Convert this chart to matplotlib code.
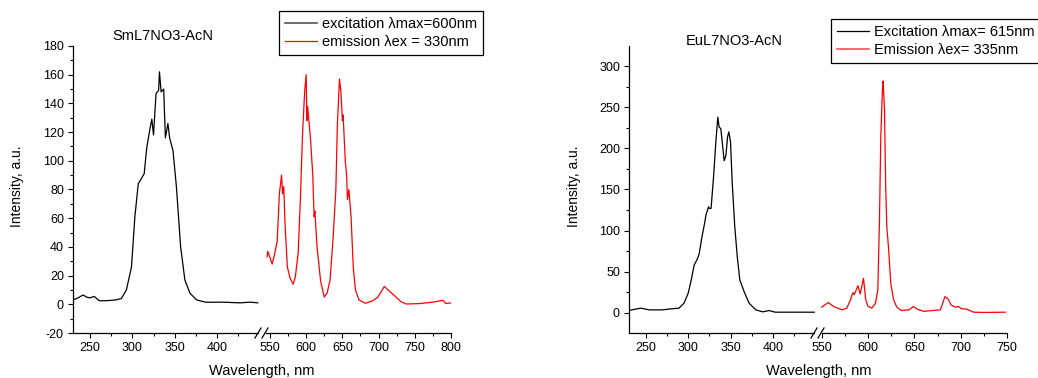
import matplotlib
matplotlib.use("Agg")
import matplotlib.pyplot as plt
from matplotlib.lines import Line2D
from matplotlib.ticker import FixedLocator

plt.rcParams['font.family'] = ['Liberation Sans', 'DejaVu Sans']
plt.rcParams['axes.unicode_minus'] = False

# SmL7NO3-AcN, excitation (lambda max = 600 nm)
sm_exc_wl = [230, 236, 242, 246, 250, 255, 261, 269, 280, 287, 293, 299, 303, 307, 311, 314,
             317, 319, 321, 323, 325, 328, 331, 332, 334, 337, 339, 342, 344, 348, 352, 357,
             362, 368, 376, 387, 407, 427, 439, 448]
sm_exc_int = [3, 4.5, 6.5, 5, 4.5, 5.5, 2.5, 2.5, 3, 4, 10, 26, 61, 84, 88, 91,
              109, 116, 123, 129, 118, 147, 149, 162, 148, 150, 116, 126, 116, 107, 82, 40,
              17, 7.7, 3, 1.4, 1.5, 1, 1.5, 1]

# SmL7NO3-AcN, emission (lambda ex = 330 nm)
sm_em_wl = [546, 547, 553, 556, 560, 563, 566, 567.5, 569, 571, 574, 578, 582, 585, 589, 592,
            595, 598, 600, 601, 602, 606, 609, 611, 612, 615, 620, 625, 629, 633, 637, 641,
            643, 646, 648, 650, 651, 654, 656, 657, 659, 662, 665, 668, 673, 682, 692, 699,
            705, 708, 713, 722, 731, 738, 757, 775, 789, 793, 800]
sm_em_int = [33, 37, 28, 34, 44, 77, 90, 77, 82, 54, 26, 18, 14, 19, 36, 73,
             119, 149, 160, 128, 138, 115, 91, 61, 65, 40, 16, 5, 8, 17, 45, 80,
             124, 157, 148, 128, 132, 100, 89, 73, 80, 61, 26, 10, 3, 0.7, 2.5, 5,
             10, 12.5, 10, 6, 1.8, 0.2, 0.5, 1.5, 2.8, 0.5, 1]

# EuL7NO3-AcN, excitation (lambda max = 615 nm)
eu_exc_wl = [230, 244, 254, 269, 281, 289, 295, 300, 304, 307, 311, 313, 316, 319, 321, 324,
             325, 327, 330, 332.5, 335, 336.5, 338.5, 340, 342.5, 344.5, 346.5, 348, 350, 352,
             355, 358, 361, 366, 372, 380, 388, 395.5, 403, 427, 449]
eu_exc_int = [3, 5.7, 3.6, 3.6, 5, 5.7, 11.7, 24, 42, 58, 66, 72, 91, 107, 119, 129,
              127, 127, 166, 206, 238, 226, 224, 210, 185, 191, 214, 220, 208, 158,
              105, 68, 40, 26, 11.7, 3.6, 1.2, 2.8, 0.8, 0.8, 0.8]

# EuL7NO3-AcN, emission (lambda ex = 335 nm)
eu_em_wl = [550, 557, 563, 572, 577, 581, 583.5, 585, 589, 591.5, 595, 597.5, 600, 604, 608,
            610.5, 612.3, 613.7, 615.5, 616.2, 617.7, 619, 620.2, 622, 624.5, 627.5, 631, 636,
            644, 649, 653, 660, 669, 678, 680.5, 683, 686.5, 689.5, 694, 697.5, 701, 706.5,
            714, 725, 748]
eu_em_int = [7, 12.5, 7.7, 3.6, 5.7, 15.8, 24.7, 22, 33, 23, 42, 15.8, 7.7, 5.7, 11.7,
             28, 113, 214, 271, 282, 247, 153, 105, 80, 36, 15.8, 7, 2.8,
             3.6, 7.7, 4.5, 1.8, 2.8, 3.6, 11.7, 19.8, 16.8, 9.7, 7, 7.7, 5, 4.5,
             0.8, 0.5, 0.8]

W, H = 1038, 378
fig = plt.figure(figsize=(W / 100, H / 100), dpi=100)


def fx(px):
    return px / W


def fy(py):
    return 1 - py / H


def make_panel(x0, xb, x1, lim1, lim2, ylim, ymaj, ymin, major2, minor2):
    bottom, top = 333, 46
    ax1 = fig.add_axes([fx(x0), fy(bottom), fx(xb - x0), (bottom - top) / H])
    ax2 = fig.add_axes([fx(xb), fy(bottom), fx(x1 - xb), (bottom - top) / H], sharey=ax1)
    ax1.set_xlim(*lim1)
    ax2.set_xlim(*lim2)
    ax1.set_ylim(*ylim)
    for ax in (ax1, ax2):
        ax.spines['top'].set_visible(False)
        ax.spines['right'].set_visible(False)
        ax.tick_params(which='major', direction='out', length=3.5, width=0.8, labelsize=9, pad=3)
        ax.tick_params(which='minor', direction='out', length=2, width=0.8)
        for s in ax.spines.values():
            s.set_linewidth(0.9)
    ax2.spines['left'].set_visible(False)
    ax2.tick_params(which='both', left=False, labelleft=False)
    ax1.xaxis.set_major_locator(FixedLocator([250, 300, 350, 400]))
    ax1.xaxis.set_minor_locator(FixedLocator([275, 325, 375, 425]))
    ax2.xaxis.set_major_locator(FixedLocator(major2))
    ax2.xaxis.set_minor_locator(FixedLocator(minor2))
    ax1.yaxis.set_major_locator(FixedLocator(ymaj))
    ax1.yaxis.set_minor_locator(FixedLocator(ymin))

    # gap in the bottom spine and the "//" break marks
    s1 = (lim1[1] - lim1[0]) / (xb - x0)
    s2 = (lim2[1] - lim2[0]) / (x1 - xb)
    ax1.spines['bottom'].set_bounds(lim1[0], lim1[1] - 4 * s1)
    ax2.spines['bottom'].set_bounds(lim2[0] + 4 * s2, lim2[1])
    for c in (xb - 4, xb + 3):
        fig.add_artist(Line2D([fx(c - 3), fx(c + 3)], [fy(bottom + 5), fy(bottom - 5)],
                              color='black', lw=0.9))
    return ax1, ax2


# left panel
la1, la2 = make_panel(73, 262, 451, (230, 453), (539, 800), (-20, 180),
                      list(range(-20, 181, 20)), list(range(-10, 181, 20)),
                      [550, 600, 650, 700, 750, 800], [575, 625, 675, 725, 775])
la1.plot(sm_exc_wl, sm_exc_int, color='black', lw=0.9)
la2.plot(sm_em_wl, sm_em_int, color='red', lw=0.9)

# right panel
ra1, ra2 = make_panel(629, 818, 1007, (230, 453.4), (545.9, 750), (-24.5, 324.5),
                      [0, 50, 100, 150, 200, 250, 300], [25, 75, 125, 175, 225, 275, 325],
                      [550, 600, 650, 700, 750], [575, 625, 675, 725])
ra1.plot(eu_exc_wl, eu_exc_int, color='black', lw=0.9)
ra2.plot(eu_em_wl, eu_em_int, color='red', lw=0.9)

# titles and axis labels
fig.text(fx(163), fy(36), 'SmL7NO3-AcN', ha='center', va='center', fontsize=10.5)
fig.text(fx(734), fy(41), 'EuL7NO3-AcN', ha='center', va='center', fontsize=10.5)
for xc in (17, 574):
    fig.text(fx(xc), fy(186), 'Intensity, a.u.', rotation=90, ha='center', va='center', fontsize=10)
for xc in (262, 819):
    fig.text(fx(xc), fy(364), 'Wavelength, nm', ha='center', va='top', fontsize=10.5)

# legends
leg_kw = dict(loc='upper left', borderaxespad=0, fancybox=False, framealpha=1,
              edgecolor='black', fontsize=10.5, handlelength=2.2, handletextpad=0.35,
              borderpad=0.4, labelspacing=0.3)
l1 = fig.legend([Line2D([], [], color='#555555', lw=1.2), Line2D([], [], color='red', lw=0.9)],
                ['excitation λmax=600nm', 'emission λex = 330nm'],
                bbox_to_anchor=(fx(279), fy(11)), **leg_kw)
l2 = fig.legend([Line2D([], [], color='black', lw=0.9), Line2D([], [], color='#ff5050', lw=1.2)],
                ['Excitation λmax= 615nm', 'Emission λex= 335nm'],
                bbox_to_anchor=(fx(831), fy(19)), **leg_kw)
for lg in (l1, l2):
    lg.get_frame().set_linewidth(0.9)

fig.savefig('out.png', dpi=100)
